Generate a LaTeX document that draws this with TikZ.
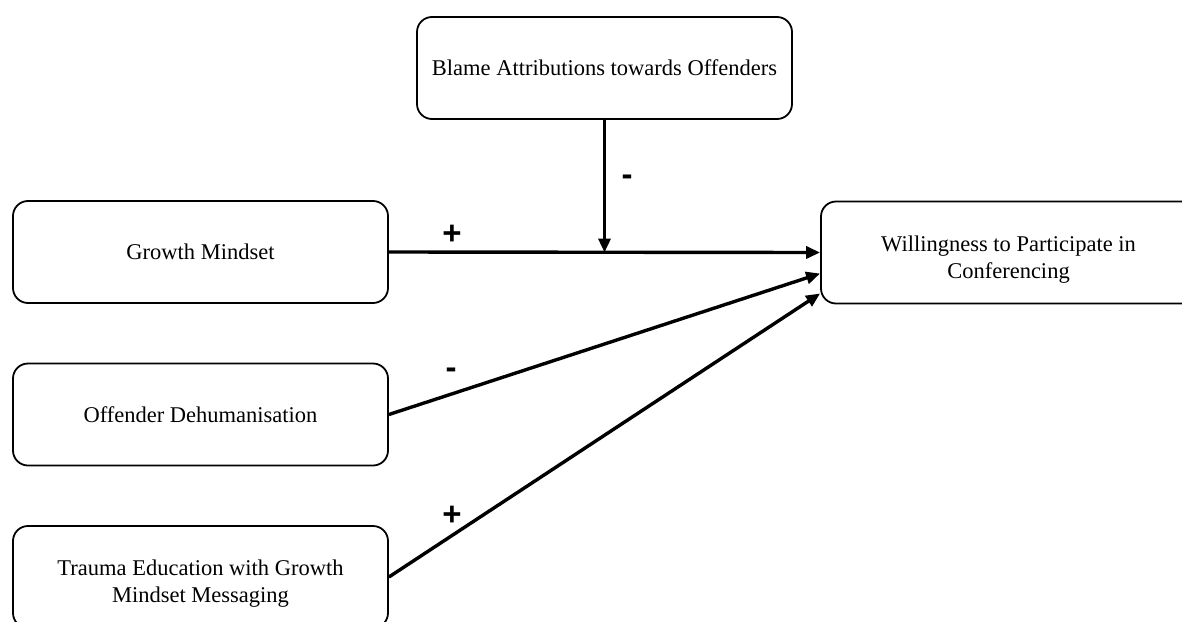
\documentclass[tikz,border=0pt]{standalone}
\usepackage{fontspec}
\setmainfont{Liberation Serif}
\newfontfamily\signfont{Liberation Sans}
\usetikzlibrary{arrows.meta}

\tikzset{
	varbox/.style={draw=black, line width=1.8pt, rounded corners=15pt, minimum width=375pt, minimum height=102pt, align=center, inner sep=0pt, font=\fontsize{22.5}{27}\selectfont},
	path/.style={line width=3.4pt, -{Triangle[length=14pt,width=12pt]}},
	sign/.style={inner sep=0.75pt, font=\signfont\bfseries\fontsize{33}{33}\selectfont}
}

\begin{document}
\begin{tikzpicture}[x=1pt,y=1pt,yscale=-1,xscale=1]
		% Set diagram size to 1182 x 621, boxes on the right and bottom run off the edge
		\clip (0,0) rectangle (1182,621);

		% Moderator box on top
		\node[varbox] (blame) at (604.5,68) {Blame Attributions towards Offenders};

		% Predictor boxes on the left
		\node[varbox] (growth) at (200.5,252) {Growth Mindset};
		\node[varbox] (dehum) at (200.5,414.5) {Offender Dehumanisation};
		\node[varbox] (trauma) at (200.5,577) {\rule{0pt}{28pt}Trauma Education with Growth\\Mindset Messaging};

		% Outcome box on the right
		\node[varbox] (willing) at (1008.5,252.5) {\rule{0pt}{30pt}Willingness to Participate in\\Conferencing};

		% Point where the moderator meets the main path
		\coordinate (meet) at (604.5,252.5);

		% Main path and moderator arrow
		\draw[path] (growth.east) -- (willing.west);
		\draw[path] (blame.south) -- (meet);

		% The other two paths end lower on the outcome box
		\draw[path] (dehum.east) -- ([yshift=21pt]willing.west);
		\draw[path] (trauma.east) -- ([yshift=41pt]willing.west);

		% Signs of the paths
		\node[sign] (sgrowth) at (452,235) {+};
		\node[sign] (sblame) at (627,180) {-};
		\node[sign] (sdehum) at (451,373) {-};
		\node[sign] (strauma) at (452,516) {+};
	\end{tikzpicture}
\end{document}
